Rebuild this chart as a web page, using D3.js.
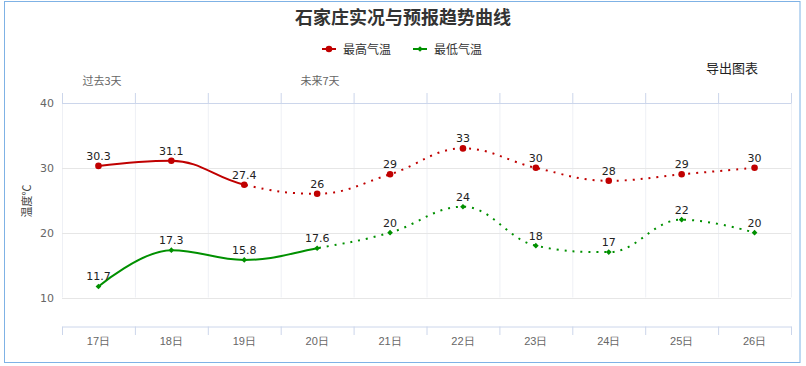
<!DOCTYPE html>
<html><head><meta charset="utf-8">
<script src="https://cdn.jsdelivr.net/npm/d3@7"></script>
<style>
html,body{margin:0;padding:0;background:#fff;}
svg{display:block;font-family:"Noto Sans CJK SC","DejaVu Sans",sans-serif;}
</style></head>
<body><svg id="c" width="806" height="366"></svg>
<script>
const categories = ["17日","18日","19日","20日","21日","22日","23日","24日","25日","26日"];
const highTemps = [30.3, 31.1, 27.4, 26, 29, 33, 30, 28, 29, 30];
const lowTemps  = [11.7, 17.3, 15.8, 17.6, 20, 24, 18, 17, 22, 20];
const highObservedLast = 2; // index where observed (solid) ends
const lowObservedLast = 3;
const yTicks = [10, 20, 30, 40];
const topLabels = ["过去3天", "未来7天"];
const seriesNames = ["最高气温", "最低气温"];
const chartTitle = "石家庄实况与预报趋势曲线";

const svg = d3.select("#c");
const red = "#c00000", green = "#009000";

// border
svg.append("rect").attr("x",4.5).attr("y",1.5).attr("width",795.5).attr("height",361)
  .attr("fill","none").attr("stroke","#7fb2e5").attr("stroke-width",1);

const pLeft = 62, pRight = 791, pTop = 103, pBottom = 297.5;
const x = d3.scaleBand().domain(categories).range([pLeft, pRight]);
const y = d3.scaleLinear().domain([10, 40]).range([pBottom, pTop]);
const cx = c => x(c) + x.bandwidth()/2;

const markerCircle = d3.symbol().type(d3.symbolCircle).size(34)();
const markerDiamond = d3.symbol().type(d3.symbolSquare).size(16)();
function markerPath(sym){ return sym==="circle" ? markerCircle : markerDiamond; }
function markerRot(sym){ return sym==="circle" ? "" : " rotate(45)"; }

// title
svg.append("text").attr("x",403).attr("y",24).attr("text-anchor","middle")
  .attr("font-size",18).attr("font-weight","bold").attr("fill","#333").text(chartTitle);

// legend
const legend = [{name:seriesNames[0], color:red, sym:"circle", x:322},{name:seriesNames[1], color:green, sym:"diamond", x:413}];
legend.forEach(l=>{
  const g = svg.append("g").attr("transform",`translate(${l.x},49)`);
  g.append("line").attr("x1",0).attr("x2",14).attr("stroke",l.color).attr("stroke-width",2);
  g.append("path").attr("transform","translate(7,0)"+markerRot(l.sym))
    .attr("d", markerPath(l.sym)).attr("fill",l.color);
  g.append("text").attr("x",21).attr("y",4.5).attr("font-size",12).attr("fill","#333").text(l.name);
});

// export button text
svg.append("text").attr("x",732).attr("y",73).attr("text-anchor","middle").attr("font-size",13).attr("fill","#222").text("导出图表");

// top labels
svg.append("text").attr("x",102).attr("y",85).attr("text-anchor","middle").attr("font-size",11).attr("fill","#666").text(topLabels[0]);
svg.append("text").attr("x",320).attr("y",85).attr("text-anchor","middle").attr("font-size",11).attr("fill","#666").text(topLabels[1]);

// vertical grid lines
const bounds = categories.map(c=>x(c)).concat([pRight]);
svg.append("g").selectAll("line").data(bounds).join("line")
  .attr("x1",d=>d+0.5).attr("x2",d=>d+0.5).attr("y1",pTop).attr("y2",pBottom)
  .attr("stroke","#eef0f5").attr("stroke-width",1);

// horizontal grid lines
svg.append("g").selectAll("line").data(yTicks).join("line")
  .attr("x1",pLeft).attr("x2",pRight).attr("y1",d=>Math.round(y(d))+0.5).attr("y2",d=>Math.round(y(d))+0.5)
  .attr("stroke","#e6e6e6").attr("stroke-width",1);

// y axis labels
const yAxis = d3.axisLeft(y).tickValues(yTicks).tickSize(0).tickPadding(8);
const yg = svg.append("g").attr("transform",`translate(${pLeft},0)`).call(yAxis);
yg.select(".domain").remove();
yg.selectAll("text").attr("font-size",11).attr("fill","#666").attr("font-family","DejaVu Sans, sans-serif");

svg.append("text").attr("transform","translate(31,201) rotate(-90)").attr("text-anchor","middle")
  .attr("font-size",11).attr("fill","#444").text("温度℃");

// top axis
svg.append("line").attr("x1",pLeft).attr("x2",pRight).attr("y1",103.5).attr("y2",103.5).attr("stroke","#ccd6eb");
svg.append("g").selectAll("line").data(bounds).join("line")
  .attr("x1",d=>d+0.5).attr("x2",d=>d+0.5).attr("y1",93).attr("y2",103.5).attr("stroke","#ccd6eb");

// bottom axis
const xAxis = d3.axisBottom(x).tickSize(0).tickPadding(11);
const xg = svg.append("g").attr("transform","translate(0,326.5)").call(xAxis);
xg.select(".domain").attr("stroke","#ccd6eb");
xg.selectAll("text").attr("font-size",11).attr("fill","#666");
svg.append("g").selectAll("line").data(bounds).join("line")
  .attr("x1",d=>d+0.5).attr("x2",d=>d+0.5).attr("y1",326.5).attr("y2",335).attr("stroke","#ccd6eb");

// Highcharts-like spline curve for d3.line
function curveHCSpline(context){
  let pts;
  return {
    areaStart(){}, areaEnd(){},
    lineStart(){ pts = []; },
    point(px,py){ pts.push([+px,+py]); },
    lineEnd(){
      const n = pts.length, s = 1.5, den = s+1;
      const ctrl = pts.map((p,i)=>{
        if(i===0 || i===n-1) return {lx:p[0],ly:p[1],rx:p[0],ry:p[1]};
        const [lX,lY] = pts[i-1], [nX,nY] = pts[i+1], [X,Y] = p;
        let lx=(s*X+lX)/den, ly=(s*Y+lY)/den, rx=(s*X+nX)/den, ry=(s*Y+nY)/den;
        if(rx!==lx){ const corr=((ry-ly)*(rx-X))/(rx-lx)+Y-ry; ly+=corr; ry+=corr; }
        if(ly>lY && ly>Y){ ly=Math.max(lY,Y); ry=2*Y-ly; }
        else if(ly<lY && ly<Y){ ly=Math.min(lY,Y); ry=2*Y-ly; }
        if(ry>nY && ry>Y){ ry=Math.max(nY,Y); ly=2*Y-ry; }
        else if(ry<nY && ry<Y){ ry=Math.min(nY,Y); ly=2*Y-ry; }
        return {lx,ly,rx,ry};
      });
      context.moveTo(pts[0][0],pts[0][1]);
      for(let i=1;i<n;i++){
        context.bezierCurveTo(ctrl[i-1].rx,ctrl[i-1].ry,ctrl[i].lx,ctrl[i].ly,pts[i][0],pts[i][1]);
      }
    }
  };
}

const line = d3.line().x((d,i)=>cx(categories[i])).y(d=>y(d)).curve(curveHCSpline);

const defs = svg.append("defs");
function drawSeries(vals, color, lastSolid, sym, id){
  const splitX = cx(categories[lastSolid]);
  defs.append("clipPath").attr("id",id+"s").append("rect").attr("x",0).attr("y",0).attr("width",splitX).attr("height",366);
  defs.append("clipPath").attr("id",id+"d").append("rect").attr("x",splitX).attr("y",0).attr("width",806-splitX).attr("height",366);
  svg.append("path").attr("d",line(vals)).attr("fill","none").attr("stroke",color).attr("stroke-width",2)
    .attr("clip-path",`url(#${id}s)`);
  svg.append("path").attr("d",line(vals)).attr("fill","none").attr("stroke",color).attr("stroke-width",2)
    .attr("stroke-dasharray","2,6").attr("clip-path",`url(#${id}d)`);
  svg.append("g").selectAll("path").data(vals).join("path")
    .attr("transform",(d,i)=>`translate(${cx(categories[i])},${y(d)})`+markerRot(sym))
    .attr("d", markerPath(sym)).attr("fill",color);
  svg.append("g").selectAll("text").data(vals).join("text")
    .attr("x",(d,i)=>cx(categories[i])).attr("y",d=>y(d)-6)
    .attr("text-anchor","middle").attr("font-size",11).attr("fill","#222")
    .attr("font-family","DejaVu Sans, sans-serif").text(d=>d);
}
drawSeries(highTemps, red, highObservedLast, "circle", "hi");
drawSeries(lowTemps, green, lowObservedLast, "diamond", "lo");
</script></body></html>
